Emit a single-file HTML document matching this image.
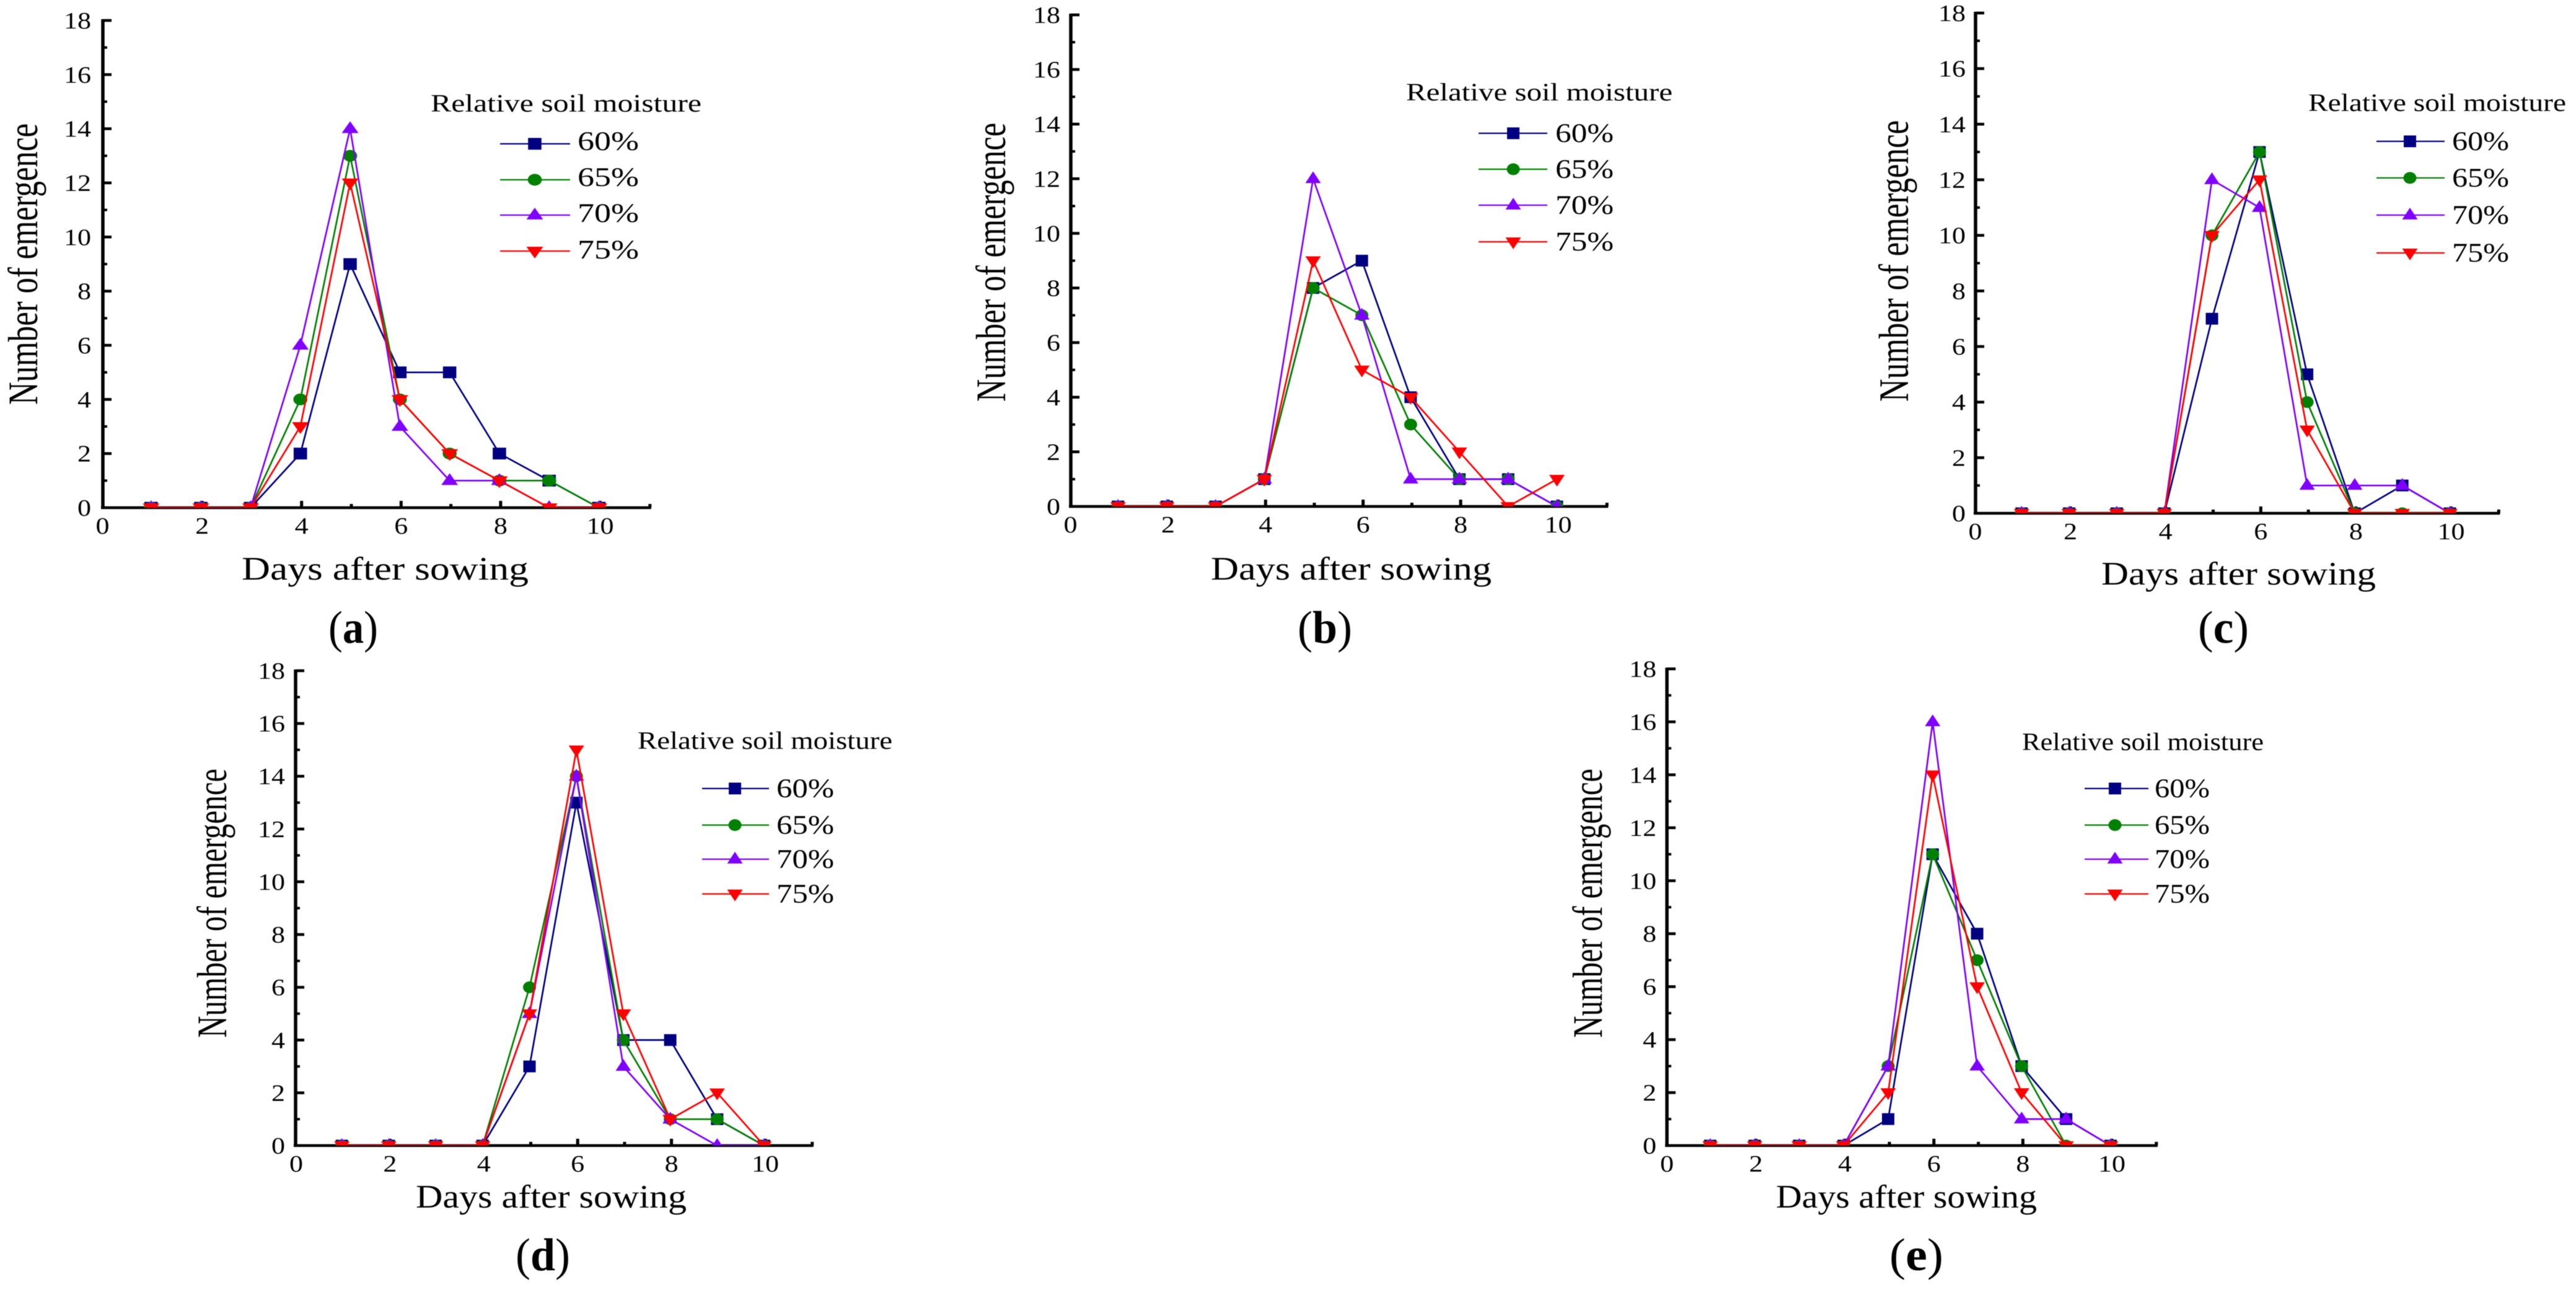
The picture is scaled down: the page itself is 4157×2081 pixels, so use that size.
<!DOCTYPE html>
<html lang="en">
<head>
<meta charset="utf-8">
<title>Seedling emergence by relative soil moisture</title>
<style>
html,body{margin:0;padding:0;background:#fff;}
svg{display:block;filter:blur(0.6px);}
text{font-family:"Liberation Serif","DejaVu Serif",serif;fill:#000;}
.tick{font-size:38px;}
.xl{font-size:53px;}
.yl{font-size:68px;}
.lt{font-size:40px;}
.le{font-size:43px;}
.cap{font-size:74px;}
</style>
</head>
<body>
<svg id="fig" xmlns="http://www.w3.org/2000/svg" width="4157" height="2081" viewBox="0 0 4157 2081">
<g id="panel-a">
  <text class="yl" text-anchor="middle" textLength="454" lengthAdjust="spacingAndGlyphs" transform="translate(60,426) rotate(-90)">Number of emergence</text>
  <text class="xl" x="390" y="935" textLength="463" lengthAdjust="spacingAndGlyphs">Days after sowing</text>
  <text class="lt" x="695" y="180" textLength="437" lengthAdjust="spacingAndGlyphs">Relative soil moisture</text>
  <text class="le" x="932" y="242" textLength="99" lengthAdjust="spacingAndGlyphs">60%</text>
  <text class="le" x="932" y="300" textLength="99" lengthAdjust="spacingAndGlyphs">65%</text>
  <text class="le" x="932" y="358" textLength="99" lengthAdjust="spacingAndGlyphs">70%</text>
  <text class="le" x="932" y="417" textLength="99" lengthAdjust="spacingAndGlyphs">75%</text>
  <text class="cap" x="530" y="1037" textLength="80" lengthAdjust="spacingAndGlyphs">(<tspan font-weight="bold">a</tspan>)</text>
</g>
<g id="panel-b">
  <text class="yl" text-anchor="middle" textLength="450" lengthAdjust="spacingAndGlyphs" transform="translate(1622,423) rotate(-90)">Number of emergence</text>
  <text class="xl" x="1954" y="935" textLength="453" lengthAdjust="spacingAndGlyphs">Days after sowing</text>
  <text class="lt" x="2269" y="162" textLength="430" lengthAdjust="spacingAndGlyphs">Relative soil moisture</text>
  <text class="le" x="2510" y="229" textLength="94" lengthAdjust="spacingAndGlyphs">60%</text>
  <text class="le" x="2510" y="287" textLength="94" lengthAdjust="spacingAndGlyphs">65%</text>
  <text class="le" x="2510" y="345" textLength="94" lengthAdjust="spacingAndGlyphs">70%</text>
  <text class="le" x="2510" y="404" textLength="94" lengthAdjust="spacingAndGlyphs">75%</text>
  <text class="cap" x="2094" y="1037" textLength="88" lengthAdjust="spacingAndGlyphs">(<tspan font-weight="bold">b</tspan>)</text>
</g>
<g id="panel-c">
  <text class="yl" text-anchor="middle" textLength="454" lengthAdjust="spacingAndGlyphs" transform="translate(3079,421) rotate(-90)">Number of emergence</text>
  <text class="xl" x="3391" y="943" textLength="443" lengthAdjust="spacingAndGlyphs">Days after sowing</text>
  <text class="lt" x="3725" y="179" textLength="416" lengthAdjust="spacingAndGlyphs">Relative soil moisture</text>
  <text class="le" x="3957" y="242" textLength="92" lengthAdjust="spacingAndGlyphs">60%</text>
  <text class="le" x="3957" y="301" textLength="92" lengthAdjust="spacingAndGlyphs">65%</text>
  <text class="le" x="3957" y="361" textLength="92" lengthAdjust="spacingAndGlyphs">70%</text>
  <text class="le" x="3957" y="422" textLength="92" lengthAdjust="spacingAndGlyphs">75%</text>
  <text class="cap" x="3547" y="1037" textLength="82" lengthAdjust="spacingAndGlyphs">(<tspan font-weight="bold">c</tspan>)</text>
</g>
<g id="panel-d">
  <text class="yl" text-anchor="middle" textLength="434" lengthAdjust="spacingAndGlyphs" transform="translate(365,1457) rotate(-90)">Number of emergence</text>
  <text class="xl" x="671" y="1948" textLength="437" lengthAdjust="spacingAndGlyphs">Days after sowing</text>
  <text class="lt" x="1029" y="1208" textLength="411" lengthAdjust="spacingAndGlyphs">Relative soil moisture</text>
  <text class="le" x="1253" y="1286" textLength="93" lengthAdjust="spacingAndGlyphs">60%</text>
  <text class="le" x="1253" y="1345" textLength="93" lengthAdjust="spacingAndGlyphs">65%</text>
  <text class="le" x="1253" y="1400" textLength="93" lengthAdjust="spacingAndGlyphs">70%</text>
  <text class="le" x="1253" y="1456" textLength="93" lengthAdjust="spacingAndGlyphs">75%</text>
  <text class="cap" x="832" y="2049" textLength="88" lengthAdjust="spacingAndGlyphs">(<tspan font-weight="bold">d</tspan>)</text>
</g>
<g id="panel-e">
  <text class="yl" text-anchor="middle" textLength="434" lengthAdjust="spacingAndGlyphs" transform="translate(2585,1457) rotate(-90)">Number of emergence</text>
  <text class="xl" x="2866" y="1948" textLength="421" lengthAdjust="spacingAndGlyphs">Days after sowing</text>
  <text class="lt" x="3263" y="1210" textLength="390" lengthAdjust="spacingAndGlyphs">Relative soil moisture</text>
  <text class="le" x="3477" y="1286" textLength="89" lengthAdjust="spacingAndGlyphs">60%</text>
  <text class="le" x="3477" y="1345" textLength="89" lengthAdjust="spacingAndGlyphs">65%</text>
  <text class="le" x="3477" y="1400" textLength="89" lengthAdjust="spacingAndGlyphs">70%</text>
  <text class="le" x="3477" y="1456" textLength="89" lengthAdjust="spacingAndGlyphs">75%</text>
  <text class="cap" x="3049" y="2049" textLength="87" lengthAdjust="spacingAndGlyphs">(<tspan font-weight="bold">e</tspan>)</text>
</g>
</svg>
<script>
// Chart data
const days = [1, 2, 3, 4, 5, 6, 7, 8, 9, 10];
const xTickLabels = [0, 2, 4, 6, 8, 10];
const yTickLabels = [0, 2, 4, 6, 8, 10, 12, 14, 16, 18];
const seriesNames = ['60', '65', '70', '75'];

const panelA60 = [0, 0, 0, 2, 9, 5, 5, 2, 1, 0];
const panelA65 = [0, 0, 0, 4, 13, 4, 2, 1, 1, 0];
const panelA70 = [0, 0, 0, 6, 14, 3, 1, 1, 0, 0];
const panelA75 = [0, 0, 0, 3, 12, 4, 2, 1, 0, 0];

const panelB60 = [0, 0, 0, 1, 8, 9, 4, 1, 1, 0];
const panelB65 = [0, 0, 0, 1, 8, 7, 3, 1, 1, 0];
const panelB70 = [0, 0, 0, 1, 12, 7, 1, 1, 1, 0];
const panelB75 = [0, 0, 0, 1, 9, 5, 4, 2, 0, 1];

const panelC60 = [0, 0, 0, 0, 7, 13, 5, 0, 1, 0];
const panelC65 = [0, 0, 0, 0, 10, 13, 4, 0, 0, 0];
const panelC70 = [0, 0, 0, 0, 12, 11, 1, 1, 1, 0];
const panelC75 = [0, 0, 0, 0, 10, 12, 3, 0, 0, 0];

const panelD60 = [0, 0, 0, 0, 3, 13, 4, 4, 1, 0];
const panelD65 = [0, 0, 0, 0, 6, 14, 4, 1, 1, 0];
const panelD70 = [0, 0, 0, 0, 5, 14, 3, 1, 0, 0];
const panelD75 = [0, 0, 0, 0, 5, 15, 5, 1, 2, 0];

const panelE60 = [0, 0, 0, 0, 1, 11, 8, 3, 1, 0];
const panelE65 = [0, 0, 0, 0, 3, 11, 7, 3, 0, 0];
const panelE70 = [0, 0, 0, 0, 3, 16, 3, 1, 1, 0];
const panelE75 = [0, 0, 0, 0, 2, 14, 6, 2, 0, 0];

// Panel frames (layout only)
const frames = [
  {id: 'panel-a', x0: 163.5, xu: 80.3, ax: 166, y0: 819, y18: 33, sx: 1.08, gap: 19, values: [panelA60, panelA65, panelA70, panelA75], lx1: 807, lx2: 920, lm: 863, rows: [232, 290, 347, 405]},
  {id: 'panel-b', x0: 1725.5, xu: 78.7, ax: 1728, y0: 817, y18: 24, sx: 1, gap: 17, values: [panelB60, panelB65, panelB70, panelB75], lx1: 2386, lx2: 2497, lm: 2442, rows: [215, 273, 331, 390]},
  {id: 'panel-c', x0: 3185.5, xu: 76.8, ax: 3188, y0: 828, y18: 21, sx: 1, gap: 16, values: [panelC60, panelC65, panelC70, panelC75], lx1: 3835, lx2: 3945, lm: 3889, rows: [228, 287, 347, 408]},
  {id: 'panel-d', x0: 476, xu: 75.7, ax: 477, y0: 1848, y18: 1082, sx: 1, gap: 17, values: [panelD60, panelD65, panelD70, panelD75], lx1: 1133, lx2: 1241, lm: 1186, rows: [1272, 1331, 1386, 1442]},
  {id: 'panel-e', x0: 2688, xu: 71.8, ax: 2690, y0: 1848, y18: 1079, sx: 1, gap: 17, values: [panelE60, panelE65, panelE70, panelE75], lx1: 3364, lx2: 3467, lm: 3413, rows: [1272, 1331, 1386, 1442]}
];
const colors = ['#000080', '#008000', '#8000ff', '#ff0000'];
const NS = 'http://www.w3.org/2000/svg';
const svgRoot = document.getElementById('fig');
const defs = document.createElementNS(NS, 'defs');
svgRoot.insertBefore(defs, svgRoot.firstChild);

function make(tag, attrs, parent) {
  const el = document.createElementNS(NS, tag);
  for (const k in attrs) el.setAttribute(k, attrs[k]);
  parent.appendChild(el);
  return el;
}

function marker(kind, cx, cy, fill, sx, parent) {
  const hw = 12.5 * sx;
  let el;
  if (kind === 0) {
    el = make('rect', {x: cx - 10 * sx, y: cy - 9.5, width: 20 * sx, height: 19, fill: fill}, parent);
  } else if (kind === 1) {
    el = make('ellipse', {cx: cx, cy: cy, rx: 10.5 * sx, ry: 9.5, fill: fill}, parent);
  } else if (kind === 2) {
    el = make('polygon', {points: (cx - hw) + ',' + (cy + 7) + ' ' + (cx + hw) + ',' + (cy + 7) + ' ' + cx + ',' + (cy - 12), fill: fill}, parent);
  } else {
    el = make('polygon', {points: (cx - hw) + ',' + (cy - 7) + ' ' + (cx + hw) + ',' + (cy - 7) + ' ' + cx + ',' + (cy + 12), fill: fill}, parent);
  }
  return el;
}

frames.forEach(function (f) {
  const root = document.getElementById(f.id);
  const xScale = function (v) { return f.x0 + v * f.xu; };
  const yScale = function (v) { return f.y0 - (v / 18) * (f.y0 - f.y18); };
  const clipId = 'clip-' + f.id;
  const clip = make('clipPath', {id: clipId}, defs);
  make('rect', {x: f.ax, y: 0, width: f.xu * 12, height: f.y0}, clip);

  const axes = make('g', {}, root);
  
  

  const xAxis = make('line', {x1: f.ax - 3, x2: xScale(11) + 4, y1: f.y0, y2: f.y0, stroke: '#000', 'stroke-width': 4.5}, axes);
  
  

  const yAxis = make('line', {x1: f.ax, x2: f.ax, y1: f.y0 + 2, y2: f.y18 - 2, stroke: '#000', 'stroke-width': 5.5}, axes);
  
  

  for (let v = 1; v <= 11; v++) {
    const major = v % 2 === 0;
    const t = make('line', {x1: xScale(v) + 2, x2: xScale(v) + 2, y1: f.y0, y2: f.y0 - (major ? 11 : 6), stroke: '#000', 'stroke-width': 5}, axes);
    
    
  }
  for (let v = 1; v <= 18; v++) {
    const major = v % 2 === 0;
    const t = make('line', {x1: f.ax, x2: f.ax + (major ? 14 : 7), y1: yScale(v), y2: yScale(v), stroke: '#000', 'stroke-width': major ? 4.5 : 4}, axes);
    
    
  }

  xTickLabels.forEach(function (v) {
    const t = make('text', {class: 'tick', x: xScale(v) + 2, y: f.y0 + 42, 'text-anchor': 'middle', textLength: String(v).length * 22, lengthAdjust: 'spacingAndGlyphs'}, axes);
    t.textContent = v;
    
    
  });
  yTickLabels.forEach(function (v) {
    const t = make('text', {class: 'tick', x: f.ax - f.gap, y: yScale(v) + 13, 'text-anchor': 'end', textLength: String(v).length * 22, lengthAdjust: 'spacingAndGlyphs'}, axes);
    t.textContent = v;
    
    
  });

  f.values.forEach(function (vals, s) {
    const g = make('g', {'clip-path': 'url(#' + clipId + ')'}, root);
    
    

    const pts = vals.map(function (v, i) { return xScale(days[i]) + ',' + yScale(v); }).join(' ');
    const line = make('polyline', {points: pts, fill: 'none', stroke: colors[s], 'stroke-width': 2.7}, g);
    
    

    vals.forEach(function (v, i) {
      const m = marker(s, xScale(days[i]), yScale(v), colors[s], f.sx, g);
      
      
    });

    const key = make('g', {}, root);
    
    

    const ll = make('line', {x1: f.lx1, x2: f.lx2, y1: f.rows[s], y2: f.rows[s], stroke: colors[s], 'stroke-width': 2.2}, key);
    
    

    const lm = marker(s, f.lm, f.rows[s], colors[s], f.sx, key);
    
    
  });
});
</script>
</body>
</html>
